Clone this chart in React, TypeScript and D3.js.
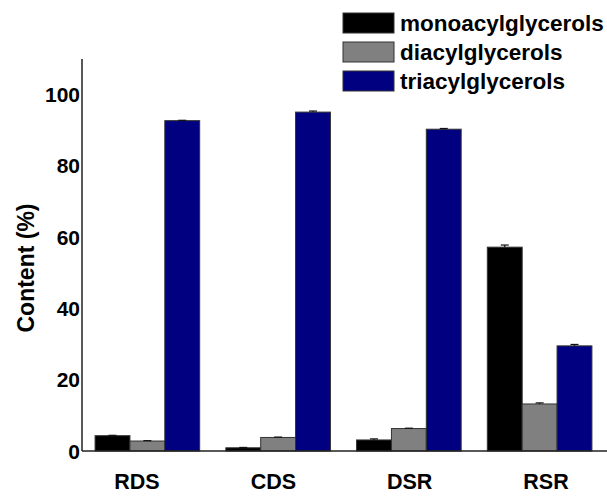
import React, { useEffect, useRef } from "react";
import * as d3 from "d3";

const categories = ["RDS", "CDS", "DSR", "RSR"];
const seriesNames = ["monoacylglycerols", "diacylglycerols", "triacylglycerols"];
const seriesColors = ["#000000", "#808080", "#000080"];
const mono = [4.3, 0.9, 3.1, 57.2];
const di = [2.8, 3.8, 6.3, 13.2];
const tri = [92.7, 95.1, 90.3, 29.5];
const monoErr = [0.1, 0.1, 0.3, 0.6];
const diErr = [0.1, 0.1, 0.1, 0.3];
const triErr = [0.1, 0.3, 0.2, 0.4];
const yTicks = [0, 20, 40, 60, 80, 100];

function App() {
  const svgRef = useRef<SVGSVGElement>(null);
  const W = 607;
  const H = 496;

  useEffect(() => {
    const svg = d3.select(svgRef.current);
    svg.selectAll("*").remove();
    const font = "'Liberation Sans', Arial, sans-serif";

    const values = [mono, di, tri];
    const errs = [monoErr, diErr, triErr];

    //scales
    const x = d3.scaleBand().domain(categories).range([82, 605]).paddingInner(0.2).paddingOuter(0.1);
    const xSub = d3.scaleBand().domain(seriesNames).range([0, x.bandwidth()]);
    const xLabel = d3.scalePoint().domain(categories).range([137, 546]);
    const y = d3.scaleLinear().domain([0, 110]).range([451, 59]);

    //bars
    const rows = categories.flatMap((c, i) =>
      seriesNames.map((s, j) => ({ c, s, j, v: values[j][i], e: errs[j][i] }))
    );

    svg
      .append("g")
      .selectAll("rect")
      .data(rows)
      .enter()
      .append("rect")
      .attr("x", (d) => x(d.c)! + xSub(d.s)!)
      .attr("y", (d) => y(d.v))
      .attr("width", xSub.bandwidth())
      .attr("height", (d) => y(0) - y(d.v))
      .attr("fill", (d) => seriesColors[d.j])
      .attr("stroke", "#333")
      .attr("stroke-width", 1);

    //error bars
    const eb = svg.append("g").attr("stroke", "#111").attr("stroke-width", 1.2);
    rows.forEach((d) => {
      const cx = x(d.c)! + xSub(d.s)! + xSub.bandwidth() / 2;
      eb.append("line").attr("x1", cx).attr("x2", cx).attr("y1", y(d.v)).attr("y2", y(d.v + d.e));
      eb.append("line")
        .attr("x1", cx - 4)
        .attr("x2", cx + 4)
        .attr("y1", y(d.v + d.e))
        .attr("y2", y(d.v + d.e));
    });

    //axes
    svg
      .append("line")
      .attr("x1", 82)
      .attr("x2", 82)
      .attr("y1", y(110))
      .attr("y2", y(0))
      .attr("stroke", "#222")
      .attr("stroke-width", 1.5);
    svg
      .append("line")
      .attr("x1", 82)
      .attr("x2", W)
      .attr("y1", y(0))
      .attr("y2", y(0))
      .attr("stroke", "#222")
      .attr("stroke-width", 1.5);

    svg
      .append("g")
      .selectAll("text")
      .data(yTicks)
      .enter()
      .append("text")
      .attr("x", 80)
      .attr("y", (d) => y(d))
      .attr("dy", "0.36em")
      .attr("text-anchor", "end")
      .attr("font-family", font)
      .attr("font-weight", "bold")
      .attr("font-size", 21)
      .text((d) => d);

    svg
      .append("g")
      .selectAll("text")
      .data(categories)
      .enter()
      .append("text")
      .attr("x", (d) => xLabel(d)!)
      .attr("y", 489)
      .attr("text-anchor", "middle")
      .attr("font-family", font)
      .attr("font-weight", "bold")
      .attr("font-size", 21.5)
      .text((d) => d);

    svg
      .append("text")
      .attr("transform", "translate(34,268) rotate(-90)")
      .attr("text-anchor", "middle")
      .attr("font-family", font)
      .attr("font-weight", "bold")
      .attr("font-size", 23)
      .text("Content (%)");

    //legend
    const lg = svg.append("g");
    seriesNames.forEach((s, j) => {
      const cy = 23 + j * 29;
      lg.append("rect")
        .attr("x", 343)
        .attr("y", cy - 10)
        .attr("width", 51)
        .attr("height", 20)
        .attr("fill", seriesColors[j])
        .attr("stroke", "#333")
        .attr("stroke-width", 1);
      lg.append("text")
        .attr("x", 400)
        .attr("y", cy)
        .attr("dy", "0.36em")
        .attr("font-family", font)
        .attr("font-weight", "bold")
        .attr("font-size", 22.5)
        .text(s);
    });
  }, []);

  return (
    <svg
      ref={svgRef}
      width={W}
      height={H}
      style={{ position: "absolute", left: 0, top: 0, background: "#fff" }}
    ></svg>
  );
}

export default App;
